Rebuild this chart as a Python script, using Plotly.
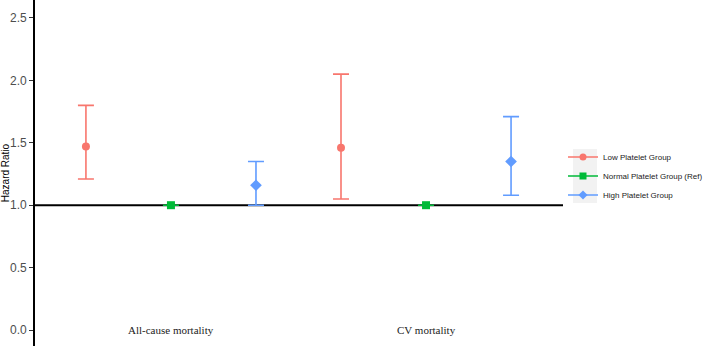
import plotly.graph_objects as go

categories = ["All-cause mortality", "CV mortality"]
groups = ["Low Platelet Group", "Normal Platelet Group (Ref)", "High Platelet Group"]
hr = {
    "Low Platelet Group": [1.47, 1.46],
    "Normal Platelet Group (Ref)": [1.00, 1.00],
    "High Platelet Group": [1.16, 1.35],
}
lower = {
    "Low Platelet Group": [1.21, 1.05],
    "Normal Platelet Group (Ref)": [1.00, 1.00],
    "High Platelet Group": [1.00, 1.08],
}
upper = {
    "Low Platelet Group": [1.80, 2.05],
    "Normal Platelet Group (Ref)": [1.00, 1.00],
    "High Platelet Group": [1.35, 1.71],
}
y_ticks = [0.0, 0.5, 1.0, 1.5, 2.0, 2.5]

colors = ["#F8766D", "#00BA38", "#619CFF"]
symbols = ["circle", "square", "diamond"]
offsets = [-1 / 3, 0, 1 / 3]

W, H = 708, 346
L, R = 35, 145
PW = W - L - R


def px_x(p):
    return (p - L) / PW


def px_y(p):
    return 1 - p / H


fig = go.Figure()

# reference line at HR = 1
fig.add_shape(type="line", xref="paper", yref="y", x0=0, x1=1, y0=1, y1=1,
              line=dict(color="black", width=2), layer="below")

# legend key background (ggplot style)
fig.add_shape(type="rect", xref="paper", yref="paper",
              x0=px_x(573), x1=px_x(597), y0=px_y(149), y1=px_y(203),
              fillcolor="#F2F2F2", line=dict(width=0), layer="below")

for g, c, s, off in zip(groups, colors, symbols, offsets):
    xs = [i + 1 + off for i in range(len(categories))]
    ys = hr[g]
    fig.add_trace(go.Scatter(
        x=xs, y=ys, mode="markers", showlegend=False,
        marker=dict(color=c, symbol=s, size=8 if s != "diamond" else 9),
        error_y=dict(type="data", symmetric=False,
                     array=[u - v for u, v in zip(upper[g], ys)],
                     arrayminus=[v - l for v, l in zip(ys, lower[g])],
                     color=c, thickness=1.6, width=8),
    ))
    fig.add_trace(go.Scatter(
        x=[None], y=[None], mode="lines+markers", name=g,
        marker=dict(color=c, symbol=s, size=7),
        line=dict(color=c, width=1.6),
    ))

for i, cat in enumerate(categories):
    fig.add_annotation(x=i + 1, y=0.0, xref="x", yref="y", text=cat,
                       showarrow=False,
                       font=dict(family="Liberation Serif", size=11, color="#222"))

fig.update_layout(
    width=W, height=H,
    margin=dict(l=L, r=R, t=0, b=0, autoexpand=False),
    plot_bgcolor="white", paper_bgcolor="white",
    font=dict(family="Liberation Sans"),
    legend=dict(x=px_x(563), y=px_y(176), xanchor="left", yanchor="middle",
                bgcolor="rgba(0,0,0,0)",
                font=dict(size=8, color="#222"), itemwidth=30, tracegroupgap=0),
    xaxis=dict(range=[0.467, 2.537], showgrid=False, zeroline=False,
               showticklabels=False, ticks="", showline=False),
    yaxis=dict(range=[-0.128, 2.644], tickvals=y_ticks,
               ticktext=[f"{v:.1f}" for v in y_ticks],
               showgrid=False, zeroline=False, showline=True,
               linecolor="black", linewidth=1.6, ticks="outside",
               ticklen=4, tickcolor="#333", tickwidth=1,
               tickfont=dict(size=12, color="#4D4D4D"),
               title=dict(text="Hazard Ratio", font=dict(size=10, color="black"),
                          standoff=4)),
)

fig.write_html("out.html", config={"displayModeBar": False},
               post_script="document.body.style.margin='0';document.body.style.overflow='hidden';")
